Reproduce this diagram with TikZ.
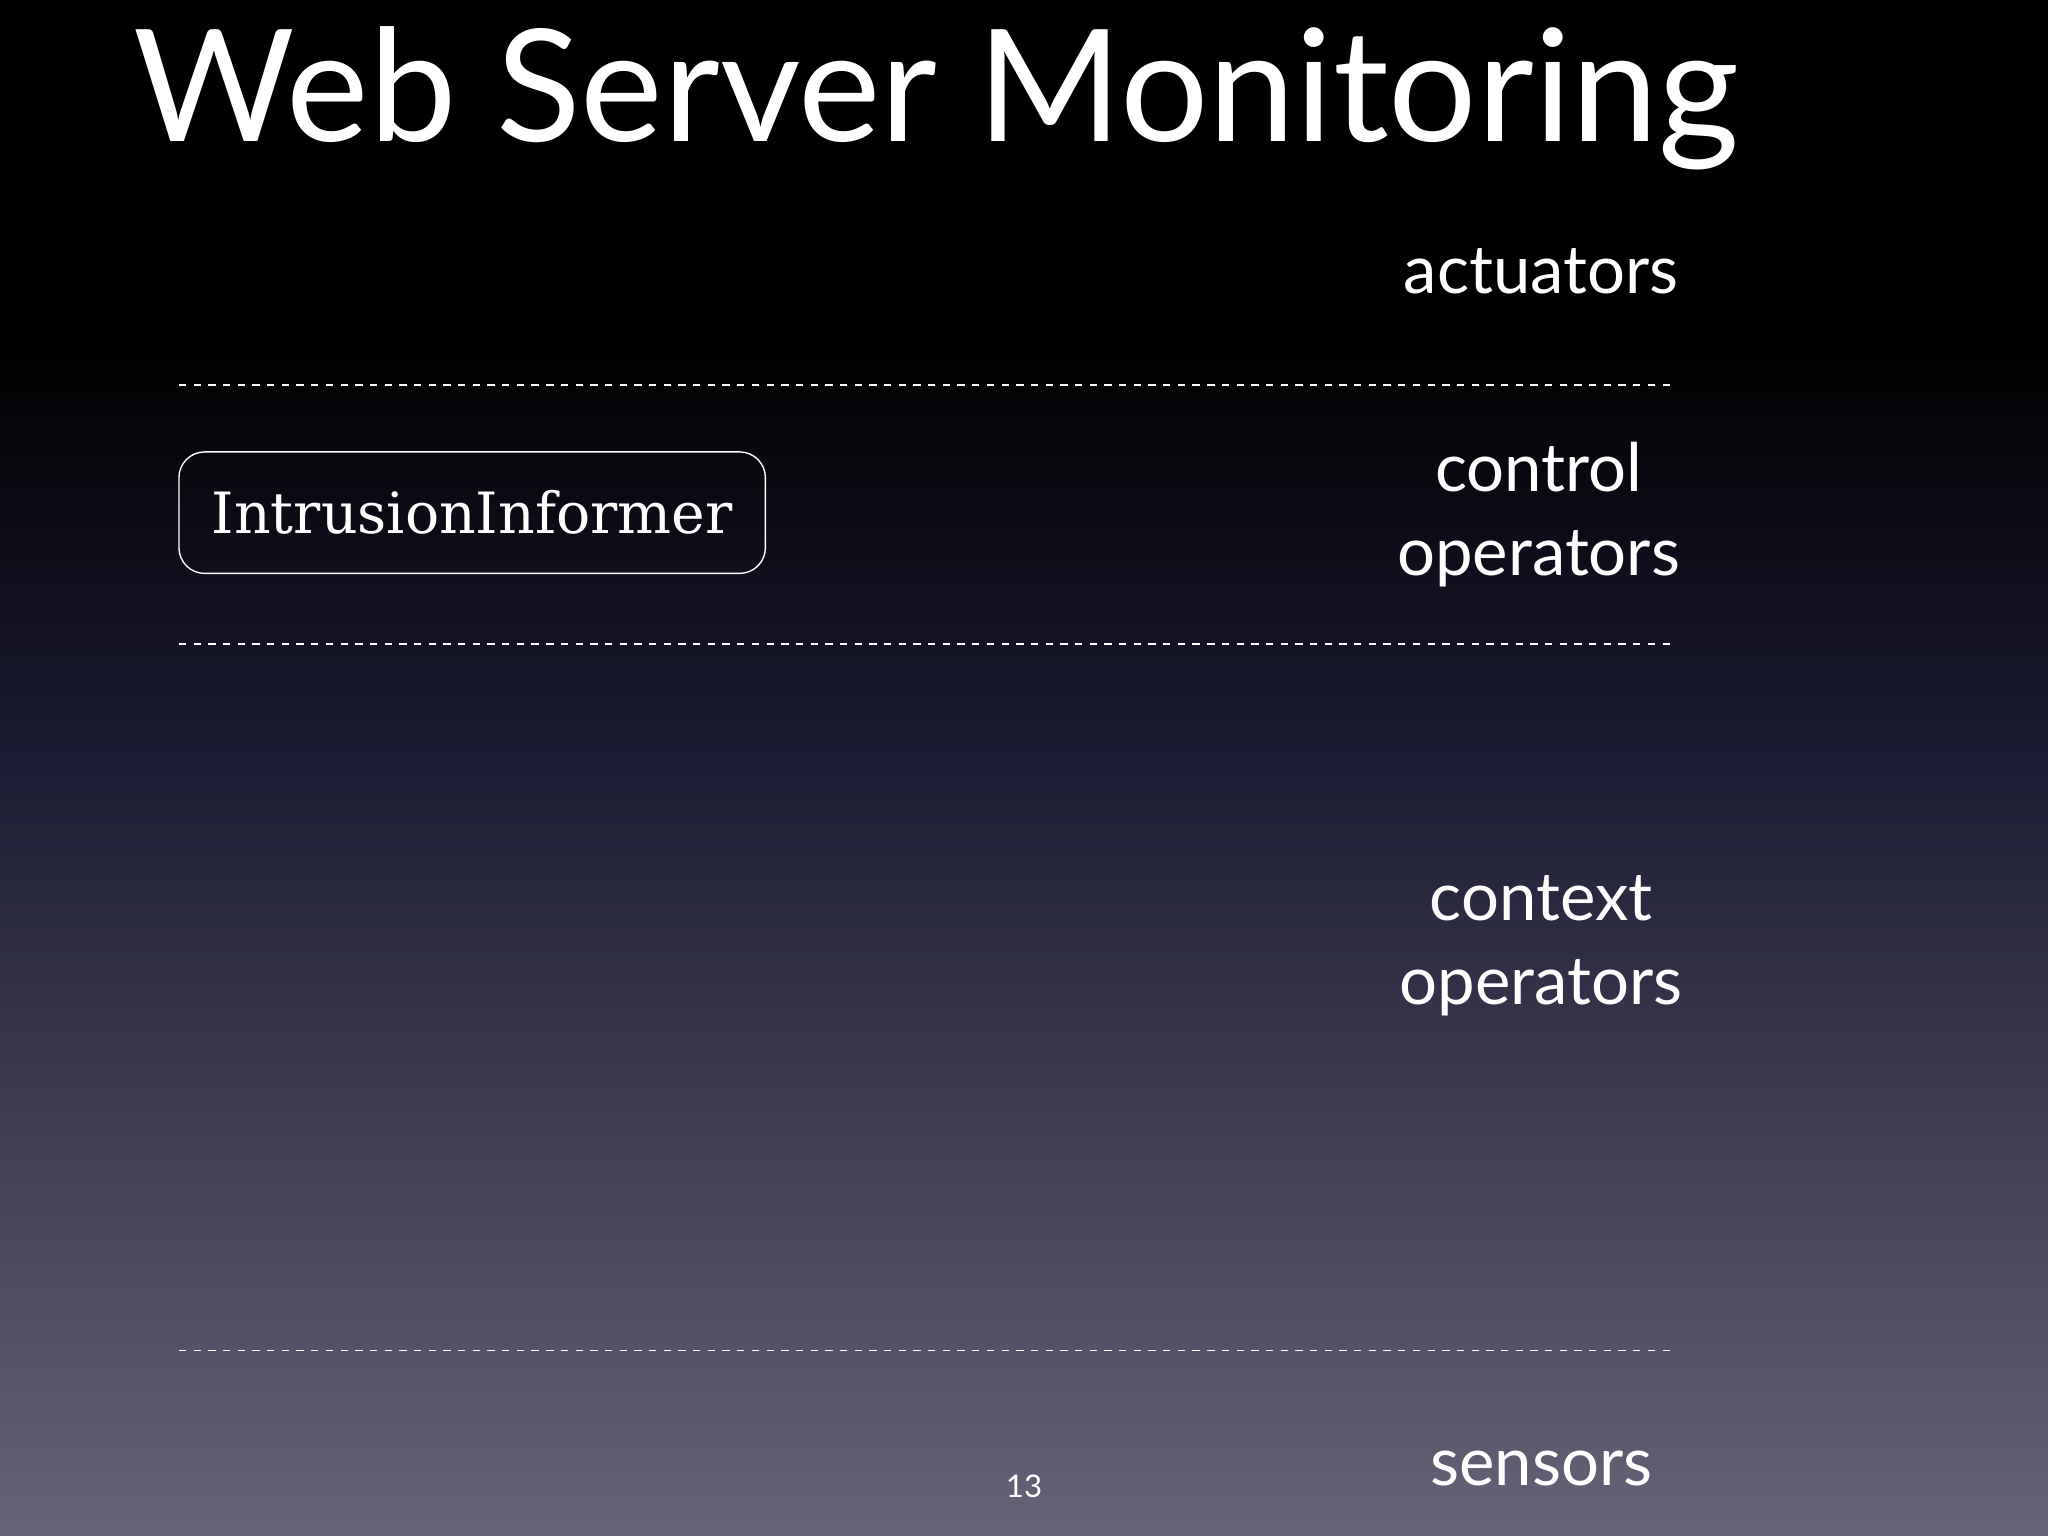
\documentclass[tikz,border=0pt]{standalone}
\usepackage{fontspec}
\setmainfont{Lato}
\newfontfamily\boxfont{DejaVu Serif}
\begin{document}
\begin{tikzpicture}[x=0.05cm,y=-0.05cm,
  lbl/.style={text=white,font=\fontsize{73}{91}\selectfont,align=center},
  sep/.style={draw=white,line width=2pt,dash pattern=on 8pt off 8pt}]
\useasboundingbox (0,0) rectangle (1568,1176);
\fill[black] (0,0) rectangle (1568,260);
\shade[top color=black,bottom color={rgb,255:red,26;green,26;blue,50}] (0,259) rectangle (1568,570);
\shade[top color={rgb,255:red,26;green,26;blue,50},bottom color={rgb,255:red,102;green,99;blue,120}] (0,569) rectangle (1568,1176);
\node[text=white,font=\fontsize{170}{200}\selectfont,anchor=base west] (title) at (100,108) {Web Server Monitoring};
\node[lbl] (act) at (1180,208) {actuators};
\node[lbl] (ctl) at (1178,394) {control\\operators};
\node[lbl] (ctx) at (1180,724) {context\\operators};
\node[lbl] (sen) at (1180,1124) {sensors};
\coordinate (a1) at (137,295); \coordinate (a2) at (1283,295);
\coordinate (b1) at (137,493); \coordinate (b2) at (1283,493);
\coordinate (c1) at (137,1034); \coordinate (c2) at (1283,1034);
\draw[sep] (a1) -- (a2);
\draw[sep] (b1) -- (b2);
\draw[sep] (c1) -- (c2);
\node[draw=white,line width=1.5pt,rounded corners=28pt,text=white,minimum width=449*0.05cm,minimum height=93*0.05cm,font=\boxfont\fontsize{62}{70}\selectfont] (ii) at (361.5,392.5) {IntrusionInformer};
\node[text=white,font=\fontsize{34}{40}\selectfont] (pg) at (784,1138) {13};
\end{tikzpicture}
\end{document}
